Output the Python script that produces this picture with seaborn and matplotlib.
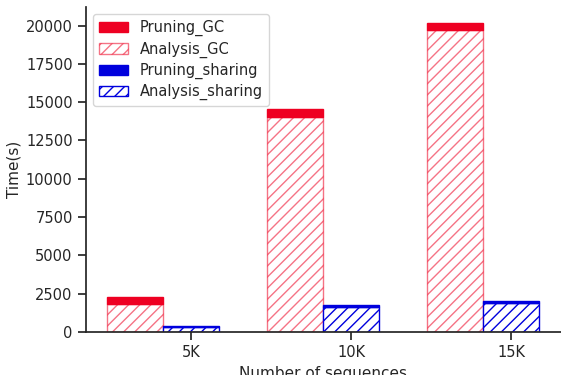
import numpy as np
import seaborn as sns
import matplotlib.pyplot as plt
from matplotlib.patches import Patch

# --- Data ---
sizes = ["5K", "10K", "15K"]
analysis_gc = [1800, 14020, 19690]
pruning_gc = [500, 560, 510]
analysis_sharing = [300, 1640, 1860]
pruning_sharing = [90, 130, 150]

# --- Style ---
sns.set_theme(style="ticks")
plt.rcParams['font.family'] = ['DejaVu Sans']

red = "#EE0022"
red_light = (0.93, 0.0, 0.13, 0.55)
blue = "#0000DD"

fig, ax = plt.subplots(figsize=(5.61, 3.75), dpi=100)
fig.subplots_adjust(left=0.153, right=1.0, bottom=0.115, top=0.981)

x = np.arange(len(sizes))
width = 0.35

# GC bars (left of tick), sharing bars (on tick)
ax.bar(x - width, analysis_gc, width, color="white", edgecolor=red_light, hatch="///", linewidth=1)
ax.bar(x - width, pruning_gc, width, bottom=analysis_gc, color=red, edgecolor=red, linewidth=1)
ax.bar(x, analysis_sharing, width, color="white", edgecolor=blue, hatch="///", linewidth=1)
ax.bar(x, pruning_sharing, width, bottom=analysis_sharing, color=blue, edgecolor=blue, linewidth=1)

ax.set_xticks(x)
ax.set_xticklabels(sizes, fontsize=10.5)
ax.tick_params(axis="y", labelsize=10.5)
ax.set_xlabel("Number of sequences", fontsize=11)
ax.set_ylabel("Time(s)", fontsize=11, labelpad=3)

handles = [
    Patch(facecolor=red, edgecolor=red),
    Patch(facecolor="white", edgecolor=red_light, hatch="///"),
    Patch(facecolor=blue, edgecolor=blue),
    Patch(facecolor="white", edgecolor=blue, hatch="///"),
]
labels = ["Pruning_GC", "Analysis_GC", "Pruning_sharing", "Analysis_sharing"]
ax.legend(handles, labels, loc="upper left", fontsize=10.5, labelspacing=0.35)

sns.despine(ax=ax)
plt.savefig("out.png", dpi=100)
plt.close()
